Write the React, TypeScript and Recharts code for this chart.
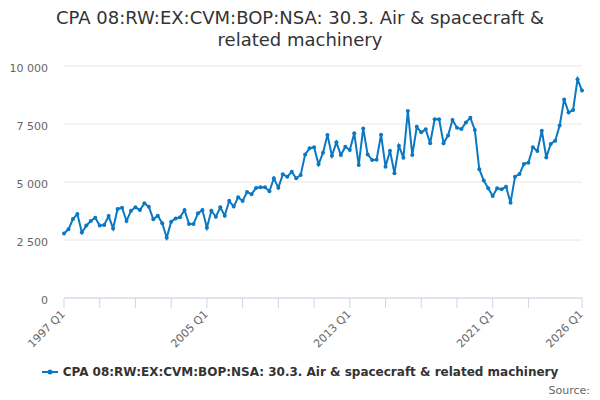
import React from "react";
import { LineChart, Line, XAxis, YAxis, CartesianGrid } from "recharts";

// Quarterly series, 1997 Q1 .. 2026 Q1 (117 quarters)
const startYear = 1997;
const values = [
  2780, 2960, 3400, 3620, 2820, 3120, 3320, 3460, 3120, 3150,
  3530, 3000, 3840, 3890, 3320, 3760, 3910, 3790, 4080, 3930,
  3390, 3550, 3220, 2600, 3290, 3430, 3480, 3790, 3190, 3190,
  3650, 3790, 3030, 3760, 3500, 3910, 3550, 4190, 3940, 4340,
  4180, 4570, 4470, 4740, 4770, 4770, 4600, 5160, 4750, 5330,
  5230, 5440, 5160, 5300, 6190, 6450, 6500, 5760, 6260, 7030,
  6130, 6710, 6160, 6520, 6380, 7100, 5730, 7310, 6190, 5950,
  5960, 7040, 5660, 6350, 5380, 6560, 6050, 8060, 6160, 7380,
  7140, 7270, 6670, 7700, 7700, 6670, 7000, 7670, 7340, 7280,
  7570, 7770, 7240, 5550, 5060, 4730, 4400, 4730, 4690, 4800,
  4110, 5230, 5340, 5780, 5830, 6500, 6340, 7210, 6060, 6640,
  6780, 7430, 8560, 8000, 8100, 9430, 8940,
];

const quarters = values.map(
  (_, i) => `${startYear + Math.floor(i / 4)} Q${(i % 4) + 1}`
);

const tickQuarters = [
  "1997 Q1", "1999 Q1", "2001 Q1", "2003 Q1", "2005 Q1", "2007 Q1", "2009 Q1",
  "2011 Q1", "2013 Q1", "2015 Q1", "2017 Q1", "2019 Q1", "2021 Q1", "2023 Q1",
  "2026 Q1",
];
const labelQuarters = ["1997 Q1", "2005 Q1", "2013 Q1", "2021 Q1", "2026 Q1"];
const yTicks = [0, 2500, 5000, 7500, 10000];

const seriesName = "CPA 08:RW:EX:CVM:BOP:NSA: 30.3. Air & spacecraft & related machinery";

const data = quarters.map((q, i) => ({ q, v: values[i] }));

const BLUE = "#0a78c2";
const FONT = '"DejaVu Sans", Verdana, sans-serif';

const fmt = (n: number) => String(n).replace(/\B(?=(\d{3})+(?!\d))/g, " ");

function XTick(props: any) {
  const { x, y, payload } = props;
  if (!labelQuarters.includes(payload.value)) return null;
  return (
    <g transform={`translate(${x - 1},${y + 4})`}>
      <text
        textAnchor="end"
        transform="rotate(-45)"
        fill="#666"
        fontSize={11}
        fontFamily={FONT}
        dy={4}
      >
        {payload.value}
      </text>
    </g>
  );
}

export default function App() {
  return (
    <div
      style={{
        position: "absolute",
        left: 0,
        top: 0,
        width: 600,
        height: 400,
        background: "#fff",
        fontFamily: FONT,
      }}
    >
      <div
        style={{
          position: "absolute",
          top: 7,
          left: 0,
          width: 600,
          textAlign: "center",
          fontSize: 18,
          lineHeight: "22px",
          color: "#333",
        }}
      >
        CPA 08:RW:EX:CVM:BOP:NSA: 30.3. Air &amp; spacecraft &amp;
        <br />
        related machinery
      </div>

      <LineChart
        width={600}
        height={400}
        data={data}
        margin={{ top: 66, right: 18, bottom: 0, left: 0 }}
      >
        <CartesianGrid vertical={false} stroke="#e6e6e6" />
        <XAxis
          dataKey="q"
          ticks={tickQuarters}
          interval={0}
          height={102}
          tickSize={10}
          tickMargin={0}
          stroke="#ccd6eb"
          tickLine={{ stroke: "#ccd6eb" }}
          axisLine={{ stroke: "#ccd6eb" }}
          tick={<XTick />}
        />
        <YAxis
          width={64}
          domain={[0, 10000]}
          ticks={yTicks}
          axisLine={false}
          tickLine={false}
          tickSize={0}
          tickMargin={16}
          tickFormatter={fmt}
          tick={{ fill: "#666", fontSize: 11, fontFamily: FONT, dy: 2 }}
        />
        <Line
          dataKey="v"
          name={seriesName}
          stroke={BLUE}
          strokeWidth={2}
          dot={{ r: 2, fill: BLUE, stroke: BLUE, strokeWidth: 0 }}
          isAnimationActive={false}
        />
      </LineChart>

      <div
        style={{
          position: "absolute",
          top: 365,
          left: 0,
          width: 600,
          display: "flex",
          justifyContent: "center",
          alignItems: "center",
          fontSize: 12,
          fontWeight: "bold",
          color: "#333",
        }}
      >
        <svg width={16} height={12} style={{ marginRight: 5 }}>
          <line x1={0} y1={6} x2={16} y2={6} stroke={BLUE} strokeWidth={2} />
          <circle cx={8} cy={6} r={2.5} fill={BLUE} />
        </svg>
        <span>{seriesName}</span>
      </div>

      <div
        style={{
          position: "absolute",
          top: 384,
          right: 10,
          fontSize: 11,
          color: "#666",
        }}
      >
        Source:
      </div>
    </div>
  );
}
